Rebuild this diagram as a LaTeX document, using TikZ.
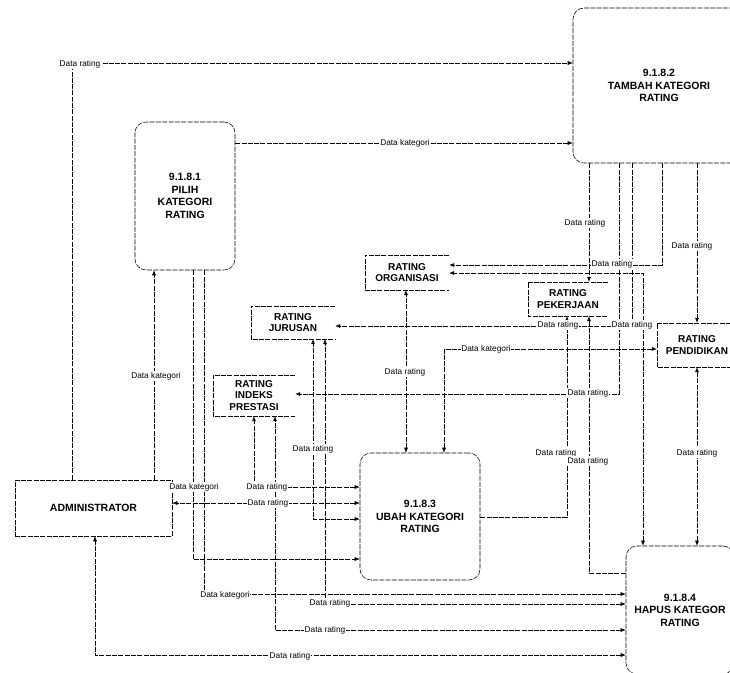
\documentclass[tikz,border=0pt]{standalone}
\usepackage{fontspec}
\setmainfont{Liberation Sans}
\usetikzlibrary{arrows.meta}
\begin{document}
\begin{tikzpicture}[x=1pt,y=-1pt,
  line/.style={line width=0.55pt, dash pattern=on 5pt off 1.3pt},
  flow/.style={line, draw, -{Latex[length=5pt,width=4pt]}},
  both/.style={line, draw, {Latex[length=5pt,width=4pt]}-{Latex[length=5pt,width=4pt]}},
  proc/.style={line, draw, rounded corners=11pt, align=center, inner sep=0pt,
    font=\bfseries\fontsize{10.5}{12.5}\selectfont},
  entity/.style={line, draw, align=center, inner sep=0pt,
    font=\bfseries\fontsize{10.5}{12.5}\selectfont},
  storebox/.style={align=center, inner sep=0pt,
    font=\bfseries\fontsize{10}{11.8}\selectfont},
  storeline/.style={line, draw},
  lbl/.style={fill=white, inner sep=0.8pt, font=\fontsize{8.3}{9}\selectfont}
]
\useasboundingbox (0,0) rectangle (730,672);
\clip (0,0) rectangle (730,672);

% processes and entity
\node[proc, minimum width=172, minimum height=155] (tambah) at (659,85.5) {9.1.8.2\\TAMBAH KATEGORI\\RATING};
\node[proc, minimum width=100, minimum height=148] (pilih) at (185,196) {9.1.8.1\\PILIH\\KATEGORI\\RATING};
\node[proc, minimum width=120, minimum height=127] (ubah) at (420,516.5) {9.1.8.3\\UBAH KATEGORI\\RATING};
\node[proc, minimum width=108, minimum height=128] (hapus) at (680,610) {9.1.8.4\\HAPUS KATEGOR\\RATING};
\node[entity, minimum width=157, minimum height=56] (admin) at (93.5,508) {ADMINISTRATOR};

% data stores
\node[storebox, minimum width=84, minimum height=35] (organisasi) at (407,272.5) {RATING\\ORGANISASI};
\node[storebox, minimum width=84, minimum height=33] (jurusan) at (293,322.5) {RATING\\JURUSAN};
\node[storebox, minimum width=82, minimum height=41] (indeks) at (254,395.5) {RATING\\INDEKS\\PRESTASI};
\node[storebox, minimum width=80, minimum height=34] (pek) at (568,299) {RATING\\PEKERJAAN};
\node[storebox, minimum width=80, minimum height=44] (pendidikan) at (697,345) {RATING\\PENDIDIKAN};
\foreach \s in {organisasi,jurusan,indeks,pek,pendidikan}
  \draw[storeline] (\s.north east) -- (\s.north west) -- (\s.south west) -- (\s.south east);

% flows
\draw[flow] (admin.north -| 72,0) |- (tambah.west |- 0,63);
\draw[flow] (pilih.east |- 0,143) -- (tambah.west |- 0,143);
\draw[flow] (admin.north -| 154,0) -- (pilih.south -| 154,0);
\draw[flow] (pilih.south -| 193,0) |- (ubah.west |- 0,559);
\draw[flow] (pilih.south -| 204,0) |- (hapus.west |- 0,594);
\draw[both] (ubah.west |- 0,503) -- (admin.east |- 0,503);
\draw[both] (ubah.west |- 0,487) -| (indeks.south -| 254,0);
\draw[both] (ubah.west |- 0,519) -| (jurusan.south -| 313,0);
\draw[both] (hapus.west |- 0,604) -| (jurusan.south -| 325,0);
\draw[both] (hapus.west |- 0,630) -| (indeks.south -| 275,0);
\draw[both] (hapus.west |- 0,655) -| (admin.south -| 95,0);
\draw[both] (ubah.north -| 406,0) -- (organisasi.south -| 406,0);
\draw[both] (ubah.north -| 444,0) |- (pendidikan.west |- 0,349);
\draw[flow] (ubah.east |- 0,517) -| (pek.south -| 567,0);
\draw[flow] (hapus.west |- 0,573) -| (pek.south -| 589,0);
\draw[flow] (tambah.south -| 589,0) -- (pek.north -| 589,0);
\draw[flow] (tambah.south -| 619,0) |- (indeks.east |- 0,394);
\draw[flow] (tambah.south -| 632,0) |- (jurusan.east |- 0,326);
\draw[flow] (tambah.south -| 662,0) |- (organisasi.east |- 0,265);
\draw[both] (hapus.north -| 643,0) |- (organisasi.east |- 0,273);
\draw[flow] (tambah.south -| 697,0) -- (pendidikan.north -| 697,0);
\draw[both] (pendidikan.south -| 697,0) -- (hapus.north -| 697,0);

% labels
\node[lbl] (l1) at (80,64) {Data rating};
\node[lbl] (l2) at (405,143) {Data kategori};
\node[lbl] (l3) at (156,376) {Data kategori};
\node[lbl] (l4) at (194,487) {Data kategori};
\node[lbl] (l5) at (267,487) {Data rating};
\node[lbl] (l6) at (268,503) {Data rating};
\node[lbl] (l7) at (313,449) {Data rating};
\node[lbl] (l8) at (225,595) {Data kategori};
\node[lbl] (l9) at (330,603) {Data rating};
\node[lbl] (l10) at (325,630) {Data rating};
\node[lbl] (l11) at (290,656) {Data rating};
\node[lbl] (l12) at (405,372) {Data rating};
\node[lbl] (l13) at (486,349) {Data kategori};
\node[lbl] (l14) at (556,453) {Data rating};
\node[lbl] (l15) at (588,461) {Data rating};
\node[lbl] (l16) at (585,223) {Data rating};
\node[lbl] (l17) at (588,393) {Data rating};
\node[lbl] (l18) at (558,325) {Data rating};
\node[lbl] (l19) at (632,325) {Data rating};
\node[lbl] (l20) at (612,264) {Data rating};
\node[lbl] (l21) at (692,246) {Data rating};
\node[lbl] (l22) at (697,453) {Data rating};
\end{tikzpicture}
\end{document}
